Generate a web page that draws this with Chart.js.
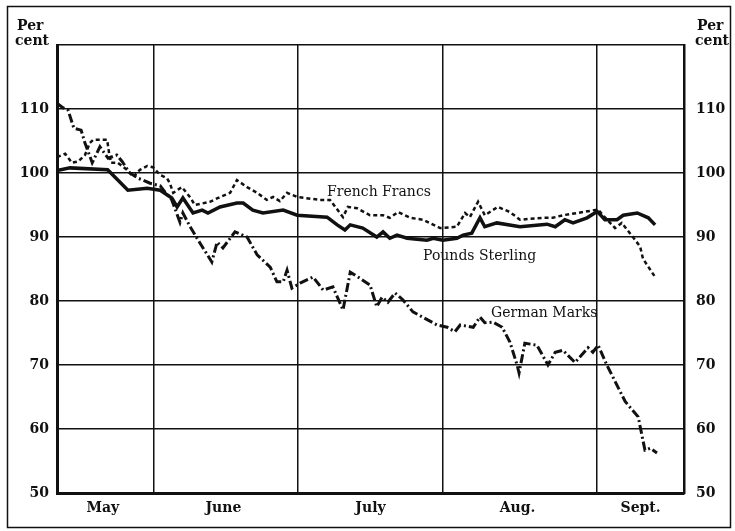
<!DOCTYPE html>
<html>
<head>
<meta charset="utf-8">
<script src="https://cdn.jsdelivr.net/npm/chart.js@4.4.0/dist/chart.umd.min.js"></script>
<style>
body{margin:0;background:#fff}
#box{width:735px;height:531px;position:relative}
</style>
</head>
<body>
<div id="box"><canvas id="grafico"></canvas></div>
<script>
// months (x axis in days from the start of the record)
const meses = ["May", "June", "July", "Aug.", "Sept."];
const limitesMes = [0, 20, 50, 80, 112, 130];
const centrosMes = [9.5, 34.5, 65, 95.5, 121];
const ticksY = [50, 60, 70, 80, 90, 100, 110, 120];

const sterlingDias = [0,2.7,10.5,14.7,18.7,21.4,23.8,24.9,26.1,28.2,30.1,31.3,33.8,37.3,38.6,40.6,42.7,46.9,49.8,56.0,58.1,59.7,60.8,63.4,66.3,67.6,69.0,70.5,72.6,76.7,78.0,80.0,82.9,84.2,86.0,87.7,88.7,91.2,96.0,101.6,103.3,105.3,107.0,109.9,112.0,113.6,116.1,117.4,120.3,122.6,124.0];
const sterlingValores = [100.4,100.8,100.5,97.3,97.6,97.3,96.1,94.7,96.1,93.75,94.2,93.75,94.7,95.3,95.3,94.2,93.75,94.2,93.4,93.1,91.9,91.1,91.9,91.4,90.0,90.8,89.8,90.3,89.8,89.5,89.8,89.5,89.8,90.3,90.6,93.0,91.6,92.2,91.6,92.0,91.6,92.7,92.2,93.0,94.0,92.7,92.7,93.4,93.75,93.0,91.9];

const francosDias = [0,1.7,3.1,4.4,5.8,6.8,7.5,10.4,10.8,11.2,12.6,14.5,15.8,17.2,18.7,19.9,21.4,22.8,23.4,24.1,25.9,27.6,28.6,31.7,33.8,35.9,37.3,39.4,41.5,43.5,44.8,46.2,47.7,49.8,54.5,56.6,59.3,60.3,62.2,64.9,67.6,69.0,70.7,73.2,75.9,79.4,82.9,84.6,85.6,87.3,88.7,91.4,93.9,96.0,100.8,102.8,104.9,109.1,112.2,113.2,115.7,117.1,119.4,120.9,121.5,124.0];
const francosValores = [102.5,103.0,101.6,101.8,102.8,104.7,105.2,105.2,103.1,101.6,101.6,100.5,99.4,100.5,101.1,100.9,99.7,99.2,98.4,96.9,97.8,96.2,95.0,95.5,96.25,96.9,98.9,97.8,96.9,95.8,96.25,95.6,96.9,96.25,95.8,95.8,93.1,94.7,94.5,93.4,93.4,93.0,93.9,93.0,92.7,91.4,91.6,93.75,93.1,95.5,93.4,94.7,93.9,92.7,93.0,93.0,93.4,93.9,94.3,93.4,91.4,92.2,90.0,88.5,86.6,83.75];

const marcosDias = [0,1.2,2.3,3.5,5.0,5.8,7.3,8.9,10.6,12.4,13.5,15.1,16.8,19.3,21.4,22.4,23.8,25.5,26.1,27.6,29.6,32.1,33.2,34.4,36.9,39.4,41.5,44.2,45.6,46.9,47.7,48.7,50.4,53.1,55.2,57.2,59.3,60.8,62.4,64.9,66.3,67.4,68.6,70.1,71.7,73.8,78.8,80.9,82.5,83.6,86.3,87.7,88.7,90.4,92.3,93.9,95.4,95.8,97.0,99.5,101.8,103.3,104.9,107.4,110.1,111.1,112.2,114.0,117.8,120.5,121.9,123.0,124.4];
const marcosValores = [110.9,110.2,109.8,107.0,106.7,104.7,101.6,104.1,102.3,102.8,101.8,100.0,99.2,98.4,98.0,97.0,95.8,92.3,93.75,91.6,89.1,86.1,89.2,88.3,90.8,90.0,87.2,85.3,83.0,83.0,84.8,82.0,82.8,83.75,81.7,82.2,78.6,84.5,83.75,82.5,79.1,80.6,79.8,81.25,80.2,78.3,76.25,75.9,75.2,76.25,75.9,77.5,76.6,76.7,75.9,73.6,70.0,68.75,73.4,73.1,70.0,72.0,72.3,70.4,72.7,72.0,73.1,70.0,64.3,61.9,56.7,57.0,56.25];

// names written beside the lines
const nomes = ["French Francs", "Pounds Sterling", "German Marks"];
const nomesDias = [56.0, 75.9, 90.0];
const nomesValores = [97.0, 87.0, 78.1];

const preto = "#111";
const fonteEixo = {family: "DejaVu Serif", weight: "bold", size: 14};

function pontos(dias, valores){
  return dias.map((d, i) => ({x: d, y: valores[i]}));
}

const textos = {
  id: "textos",
  afterDraw(chart){
    const ctx = chart.ctx;
    const sx = chart.scales.x, sy = chart.scales.y;
    ctx.save();
    ctx.fillStyle = preto;
    ctx.textAlign = "left";
    ctx.textBaseline = "alphabetic";
    ctx.font = 'bold 14px "DejaVu Serif"';
    ctx.fillText("Per", 17, 30);
    ctx.fillText("cent", 15, 45);
    ctx.fillText("Per", 697, 30);
    ctx.fillText("cent", 695, 45);

    ctx.font = '14px "DejaVu Serif"';
    ctx.textBaseline = "middle";
    for(let i = 0; i < nomes.length; i++){
      ctx.fillText(nomes[i], sx.getPixelForValue(nomesDias[i]), sy.getPixelForValue(nomesValores[i]));
    }

    ctx.strokeStyle = preto;
    ctx.lineWidth = 1.5;
    ctx.strokeRect(7.5, 6.5, 723, 521);
    ctx.restore();
  }
};

const grafico = new Chart(document.getElementById("grafico"), {
  type: "line",
  data: {
    datasets: [
      {label: "Pounds Sterling", data: pontos(sterlingDias, sterlingValores),
       borderColor: preto, borderWidth: 3.5, pointRadius: 0, tension: 0},
      {label: "French Francs", data: pontos(francosDias, francosValores),
       borderColor: preto, borderWidth: 2.5, borderDash: [4, 3], pointRadius: 0, tension: 0},
      {label: "German Marks", data: pontos(marcosDias, marcosValores),
       borderColor: preto, borderWidth: 3, borderDash: [9, 3, 2, 3], pointRadius: 0, tension: 0}
    ]
  },
  options: {
    responsive: true,
    maintainAspectRatio: false,
    animation: false,
    layout: {padding: {top: 45, left: 0, right: 0, bottom: 0}},
    plugins: {legend: {display: false}, tooltip: {enabled: false}},
    scales: {
      x: {
        type: "linear", min: 0, max: 130,
        afterBuildTicks(s){
          s.ticks = [...limitesMes, ...centrosMes].sort((a, b) => a - b).map(v => ({value: v}));
        },
        grid: {
          color: c => (c.tick && limitesMes.includes(c.tick.value)) ? preto : "rgba(0,0,0,0)",
          lineWidth: 1.5, drawTicks: false
        },
        border: {color: preto, width: 3},
        ticks: {
          autoSkip: false, maxRotation: 0, padding: 7, color: preto, font: fonteEixo,
          callback: v => { const i = centrosMes.indexOf(v); return i < 0 ? "" : meses[i]; }
        },
        afterFit(s){ s.height = 38; }
      },
      y: {
        position: "left", min: 50, max: 120,
        afterBuildTicks(s){ s.ticks = ticksY.map(v => ({value: v})); },
        grid: {color: preto, lineWidth: 1.5, drawTicks: false},
        border: {color: preto, width: 3},
        ticks: {padding: 8, color: preto, font: fonteEixo, callback: v => v === 120 ? "" : v},
        afterFit(s){ s.width = 57; }
      },
      y2: {
        position: "right", min: 50, max: 120,
        afterBuildTicks(s){ s.ticks = ticksY.map(v => ({value: v})); },
        grid: {display: false, drawTicks: false},
        border: {color: preto, width: 2.5},
        ticks: {padding: 12, color: preto, font: fonteEixo, callback: v => v === 120 ? "" : v},
        afterFit(s){ s.width = 51; }
      }
    }
  },
  plugins: [textos]
});
</script>
</body>
</html>
